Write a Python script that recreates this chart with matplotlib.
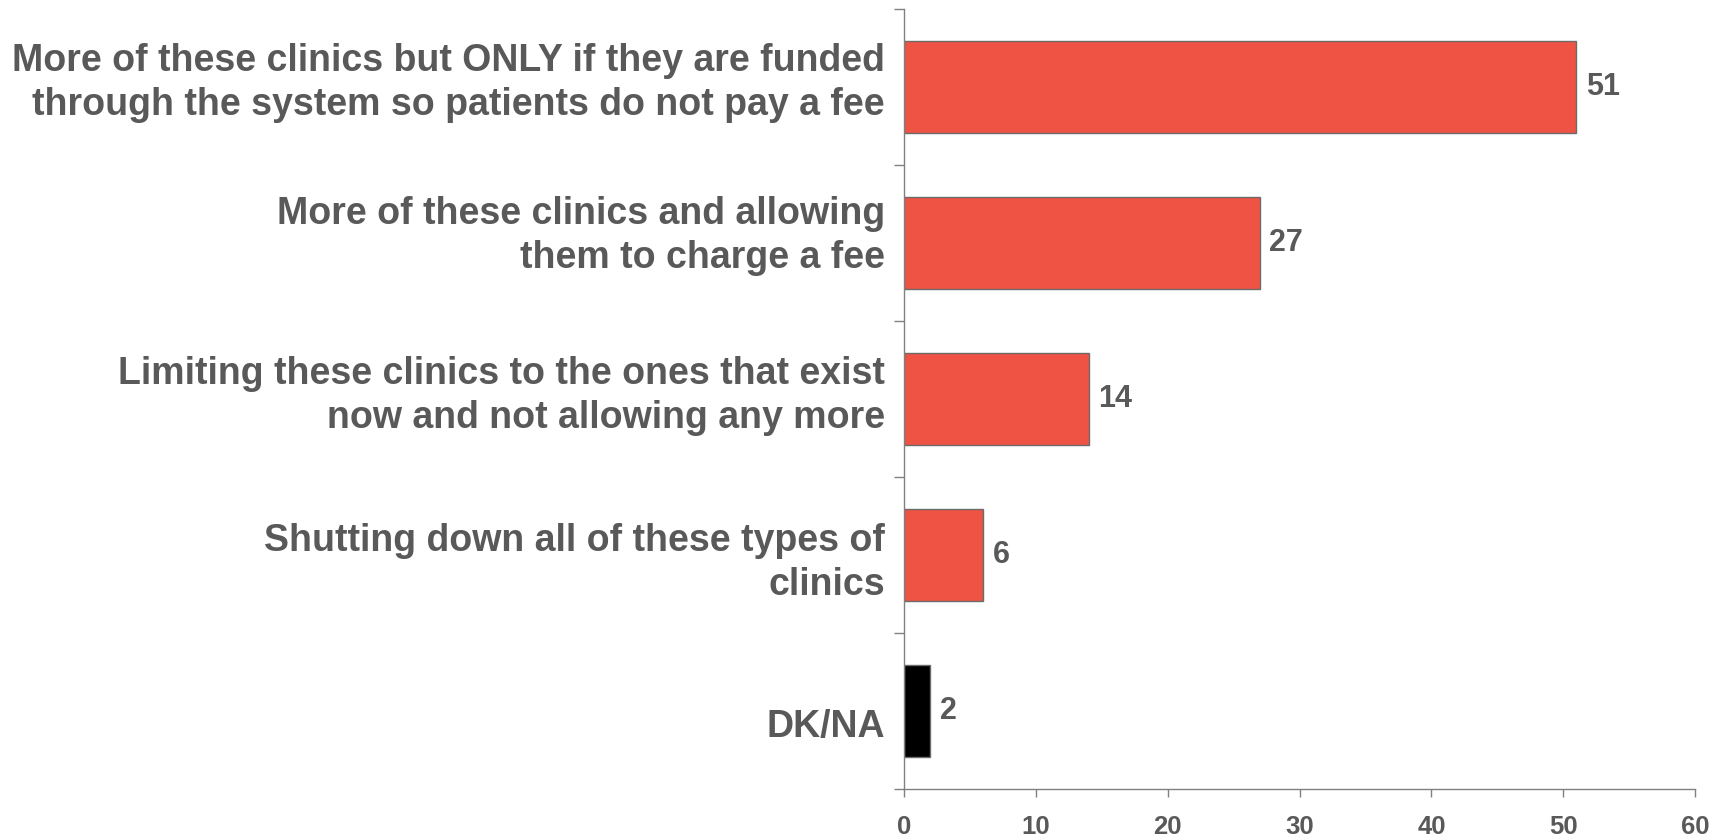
import matplotlib.pyplot as plt
import matplotlib.transforms as mtransforms
import numpy as np

categories = [
    "More of these clinics but ONLY if they are funded\nthrough the system so patients do not pay a fee",
    "More of these clinics and allowing\nthem to charge a fee",
    "Limiting these clinics to the ones that exist\nnow and not allowing any more",
    "Shutting down all of these types of\nclinics",
    "DK/NA",
]
values = [51, 27, 14, 6, 2]
bar_colors = ["#EF5343", "#EF5343", "#EF5343", "#EF5343", "#000000"]
x_ticks = [0, 10, 20, 30, 40, 50, 60]

# vertical nudge of each category label, in pixels (positive = down)
label_nudge = [-4, -7, -3, 8, 16]

text_gray = "#595959"
axis_gray = "#808080"
plt.rcParams["font.family"] = ["Liberation Sans", "DejaVu Sans"]

fig = plt.figure(figsize=(17.24, 8.38), dpi=100)
ax = fig.add_axes([0.5244, 0.0585, 0.4588, 0.9308])

y = np.arange(len(categories))[::-1]
ax.barh(y, values, height=0.59, color=bar_colors, edgecolor="#6b6b6b", linewidth=1)

for yi, v in zip(y, values):
    ax.text(v + 0.7, yi, str(v), va="center", ha="left",
            fontsize=22, fontweight="bold", color=text_gray)

ax.set_xlim(0, 60)
ax.set_ylim(-0.5, len(categories) - 0.5)
ax.set_xticks(x_ticks)
ax.set_xticklabels([str(t) for t in x_ticks], fontsize=18.5, fontweight="bold", color=text_gray)

# category labels drawn as text to the left of the axis
ax.set_yticks([])
ax.set_yticks(np.arange(-0.5, len(categories), 1.0), minor=True)
base = ax.get_yaxis_transform()
for yi, label, dy in zip(y, categories, label_nudge):
    shift = mtransforms.ScaledTranslation(-19 / 100, -dy / 100, fig.dpi_scale_trans)
    ax.text(0, yi, label, transform=base + shift, ha="right", va="center",
            multialignment="right", fontsize=27, fontweight="bold",
            color=text_gray, linespacing=1.3)

ax.tick_params(axis="y", which="minor", length=7, color=axis_gray, width=1)
ax.tick_params(axis="x", length=6, color=axis_gray, width=1, pad=13)

for side in ("top", "right"):
    ax.spines[side].set_visible(False)
for side in ("left", "bottom"):
    ax.spines[side].set_color(axis_gray)
    ax.spines[side].set_linewidth(1)

fig.savefig("out.png", dpi=100, facecolor="white")
